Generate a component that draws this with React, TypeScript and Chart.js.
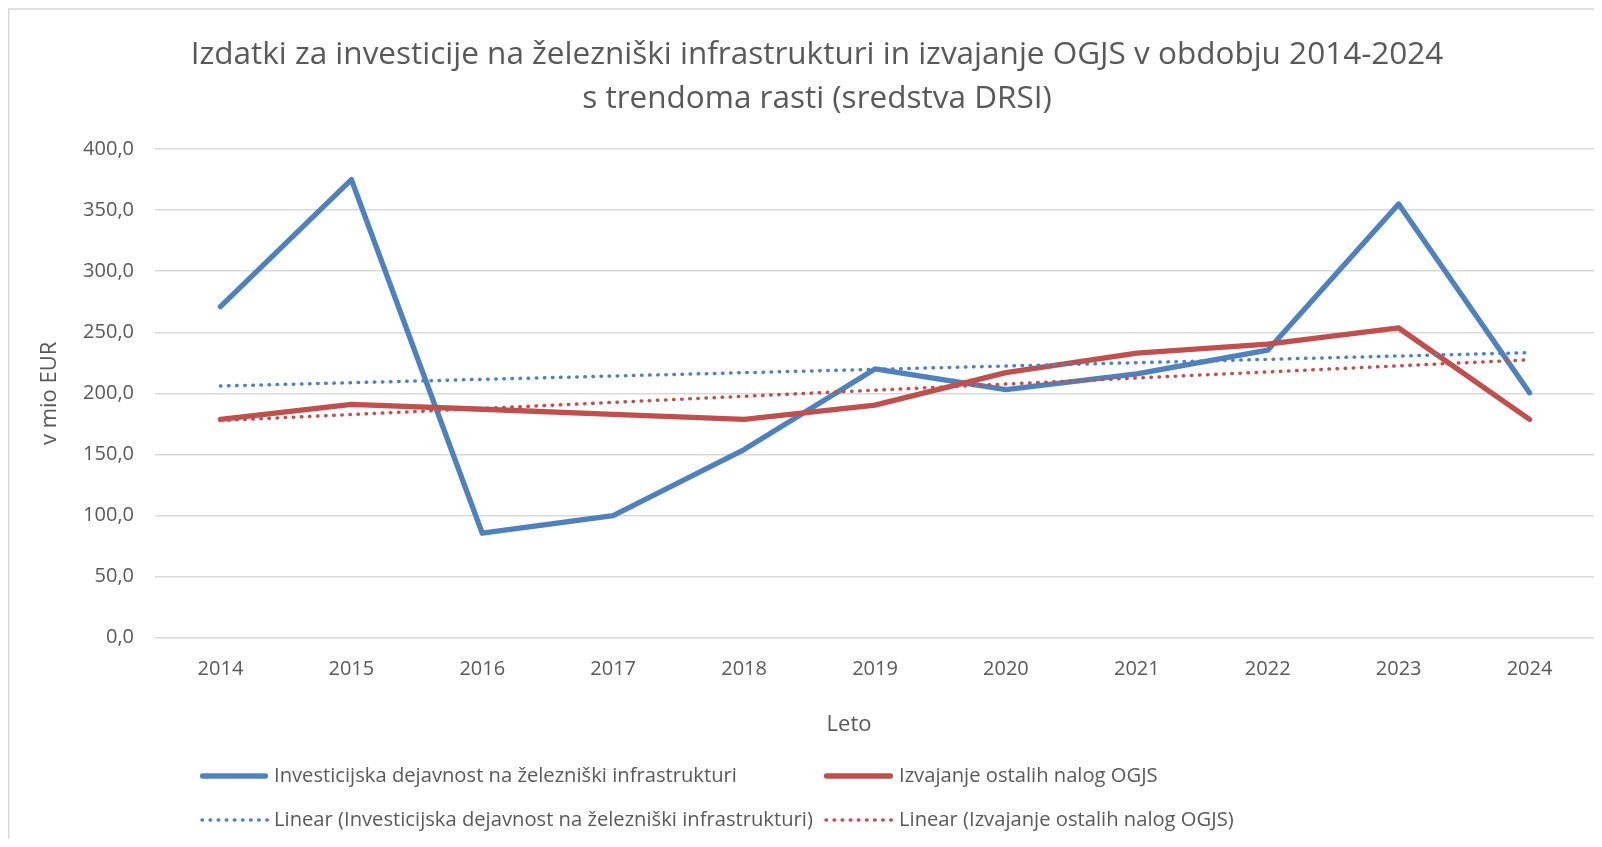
import React, { useEffect, useRef } from "react";
import { Chart, registerables } from "chart.js";

Chart.register(...registerables);

// ---- data ----
const years = ["2014", "2015", "2016", "2017", "2018", "2019", "2020", "2021", "2022", "2023", "2024"];
const investValues = [271.0, 375.0, 85.5, 100.0, 154.0, 220.0, 203.0, 216.0, 235.3, 355.0, 200.5];
const ogjsValues = [178.7, 191.0, 187.0, 182.8, 178.7, 190.4, 217.0, 233.0, 240.3, 253.5, 178.7];
// linear trend lines: value at first year and at last year
const investTrend = [206.0, 233.3];
const ogjsTrend = [177.7, 227.5];
const yTicks = [0, 50, 100, 150, 200, 250, 300, 350, 400];

const titleLines = [
  "Izdatki za investicije na železniški infrastrukturi in izvajanje OGJS v obdobju 2014-2024",
  "s trendoma rasti (sredstva DRSI)",
];
const yAxisTitle = "v mio EUR";
const xAxisTitle = "Leto";
const legendLabels = [
  "Investicijska dejavnost na železniški infrastrukturi",
  "Izvajanje ostalih nalog OGJS",
  "Linear (Investicijska dejavnost na železniški infrastrukturi)",
  "Linear (Izvajanje ostalih nalog OGJS)",
];

const BLUE = "#4F81BD";
const RED = "#C0504D";
const TEXT = "#595959";
const GRID = "#D9D9D9";
const FONT = "'Open Sans', sans-serif";

const W = 1594;
const H = 831;

const DOT_DASH = [0.5, 7.6];
const DOT_WIDTH = 3.5;

const decorPlugin = {
  id: "excelDecor",
  afterDraw(chart: any) {
    const ctx = chart.ctx as CanvasRenderingContext2D;
    ctx.save();
    // chart border
    ctx.strokeStyle = GRID;
    ctx.lineWidth = 1.5;
    ctx.strokeRect(0.75, 1, W + 20, H + 20);

    // x axis title
    ctx.fillStyle = TEXT;
    ctx.font = `22px ${FONT}`;
    ctx.textAlign = "center";
    ctx.textBaseline = "middle";
    ctx.fillText(xAxisTitle, 841, 717);

    // legend
    const items = [
      { x0: 192, x1: 260, y: 768, tx: 266, color: BLUE, dotted: false },
      { x0: 816, x1: 885, y: 768, tx: 891, color: RED, dotted: false },
      { x0: 192, x1: 260, y: 812, tx: 266, color: BLUE, dotted: true },
      { x0: 816, x1: 885, y: 812, tx: 891, color: RED, dotted: true },
    ];
    items.forEach((it, i) => {
      ctx.beginPath();
      ctx.strokeStyle = it.color;
      ctx.lineCap = "round";
      if (it.dotted) {
        ctx.lineWidth = DOT_WIDTH;
        ctx.setLineDash(DOT_DASH);
        ctx.moveTo(it.x0 + 2, it.y);
        ctx.lineTo(it.x1, it.y);
      } else {
        ctx.lineWidth = 5.3;
        ctx.setLineDash([]);
        ctx.moveTo(it.x0 + 2.6, it.y);
        ctx.lineTo(it.x1 - 2.6, it.y);
      }
      ctx.stroke();
      ctx.setLineDash([]);
      ctx.fillStyle = TEXT;
      ctx.font = `20.2px ${FONT}`;
      ctx.textAlign = "left";
      ctx.textBaseline = "middle";
      ctx.fillText(legendLabels[i], it.tx, it.y);
    });
    ctx.restore();
  },
};

export default function App() {
  const canvasRef = useRef<HTMLCanvasElement | null>(null);

  useEffect(() => {
    if (!canvasRef.current) return;
    const first = years[0];
    const last = years[years.length - 1];
    const chart = new Chart(canvasRef.current, {
      type: "line",
      data: {
        labels: years,
        datasets: [
          {
            label: legendLabels[3],
            data: [
              { x: first, y: ogjsTrend[0] },
              { x: last, y: ogjsTrend[1] },
            ] as any,
            borderColor: RED,
            borderWidth: DOT_WIDTH,
            borderDash: DOT_DASH,
            borderCapStyle: "round",
            pointRadius: 0,
            fill: false,
            order: 0,
          },
          {
            label: legendLabels[2],
            data: [
              { x: first, y: investTrend[0] },
              { x: last, y: investTrend[1] },
            ] as any,
            borderColor: BLUE,
            borderWidth: DOT_WIDTH,
            borderDash: DOT_DASH,
            borderCapStyle: "round",
            pointRadius: 0,
            fill: false,
            order: 1,
          },
          {
            label: legendLabels[1],
            data: ogjsValues,
            borderColor: RED,
            borderWidth: 5.3,
            borderCapStyle: "round",
            borderJoinStyle: "round",
            pointRadius: 0,
            tension: 0,
            fill: false,
            order: 2,
          },
          {
            label: legendLabels[0],
            data: investValues,
            borderColor: BLUE,
            borderWidth: 5.3,
            borderCapStyle: "round",
            borderJoinStyle: "round",
            pointRadius: 0,
            tension: 0,
            fill: false,
            order: 3,
          },
        ],
      },
      options: {
        responsive: false,
        animation: false,
        layout: { padding: { left: 31, right: 7, top: 0, bottom: 141.3 } },
        plugins: {
          legend: { display: false },
          tooltip: { enabled: false },
          title: {
            display: true,
            text: titleLines,
            color: TEXT,
            font: { family: FONT, size: 31.5, weight: "normal", lineHeight: 44 / 31.5 },
            padding: { top: 25, bottom: 28 },
          },
        },
        scales: {
          x: {
            type: "category",
            offset: true,
            grid: { display: false, drawTicks: false },
            border: { display: false },
            ticks: {
              color: TEXT,
              font: { family: FONT, size: 20 },
              padding: 20,
              maxRotation: 0,
              autoSkip: false,
            },
            afterFit: (s: any) => {
              s.height = 60;
            },
          },
          y: {
            min: 0,
            max: 400,
            grid: { color: GRID, lineWidth: 1.5, drawTicks: false },
            border: { display: false },
            ticks: {
              color: TEXT,
              font: { family: FONT, size: 20 },
              padding: 21,
              callback: (v: any) => Number(v).toFixed(1).replace(".", ","),
            },
            afterBuildTicks: (s: any) => {
              s.ticks = yTicks.map((v) => ({ value: v }));
            },
            title: {
              display: true,
              text: yAxisTitle,
              color: TEXT,
              font: { family: FONT, size: 22, lineHeight: 0.8 },
              padding: { top: 2, bottom: 0 },
            },
            afterFit: (s: any) => {
              s.width = 116;
            },
          },
        },
      },
      plugins: [decorPlugin],
    });
    return () => chart.destroy();
  }, []);

  return (
    <div style={{ width: W, height: H, background: "#fff" }}>
      <canvas ref={canvasRef} width={W} height={H} style={{ display: "block" }} />
    </div>
  );
}
